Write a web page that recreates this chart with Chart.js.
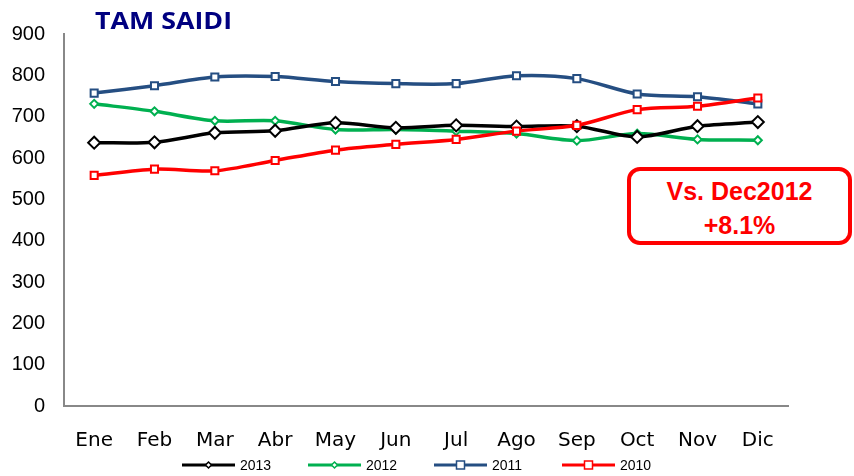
<!DOCTYPE html>
<html>
<head>
<meta charset="utf-8">
<script src="https://cdn.jsdelivr.net/npm/chart.js@4.4.1/dist/chart.umd.min.js"></script>
<style>
  html, body { margin: 0; padding: 0; background: #fff; }
  #wrap { position: relative; width: 854px; height: 476px; }
  #note {
    position: absolute; left: 627px; top: 167px; width: 217px; height: 67px;
    border: 4px solid #ff0000; border-radius: 13px; background: #fff;
    color: #ff0000; font: bold 25px "Liberation Sans", Arial, sans-serif;
    text-align: center; line-height: 34px; padding-top: 3px; box-sizing: content-box;
  }
</style>
</head>
<body>
<div id="wrap">
  <canvas id="chart" width="854" height="476"></canvas>
  <div id="note">Vs. Dec2012<br>+8.1%</div>
</div>
<script>
// Datos
const months = ['Ene', 'Feb', 'Mar', 'Abr', 'May', 'Jun', 'Jul', 'Ago', 'Sep', 'Oct', 'Nov', 'Dic'];
const saidi2013 = [637, 638, 661, 666, 685, 673, 679, 676, 677, 651, 677, 687];
const saidi2012 = [731, 713, 690, 690, 669, 669, 665, 659, 642, 659, 645, 643];
const saidi2011 = [757, 775, 796, 797, 785, 780, 780, 799, 792, 755, 748, 731];
const saidi2010 = [558, 573, 569, 594, 619, 633, 645, 665, 679, 717, 725, 745];
const yTicks = [0, 100, 200, 300, 400, 500, 600, 700, 800, 900];

function serie(label, data, color, shape, radius, order) {
  return {
    label, data, order,
    borderColor: color,
    borderWidth: 3.5,
    pointStyle: shape,
    pointRadius: radius,
    pointBorderWidth: 2,
    pointBorderColor: color,
    pointBackgroundColor: '#fff',
    tension: 0.3,
    fill: false
  };
}

// Leyenda propia: línea con marcador al centro, y el título
const legendaPlugin = {
  id: 'legenda',
  afterDraw(chart) {
    const ctx = chart.ctx;
    const xs = [182, 308, 434, 562];
    const y = 465;
    ctx.save();
    chart.data.datasets.forEach((ds, i) => {
      const x = xs[i];
      ctx.strokeStyle = ds.borderColor;
      ctx.lineWidth = 3;
      ctx.beginPath();
      ctx.moveTo(x, y);
      ctx.lineTo(x + 53, y);
      ctx.stroke();
      const cx = x + 26.5;
      const r = ds.pointStyle === 'rect' ? 4 : 3;
      ctx.fillStyle = '#fff';
      ctx.lineWidth = 1.5;
      ctx.beginPath();
      if (ds.pointStyle === 'rect') {
        ctx.rect(cx - r, y - r, r * 2, r * 2);
      } else {
        ctx.moveTo(cx, y - r); ctx.lineTo(cx + r, y); ctx.lineTo(cx, y + r); ctx.lineTo(cx - r, y); ctx.closePath();
      }
      ctx.fill();
      ctx.stroke();
      ctx.fillStyle = '#000';
      ctx.font = '14px "Liberation Sans", Arial, sans-serif';
      ctx.textBaseline = 'middle';
      ctx.fillText(ds.label, x + 58, y + 1);
    });
    // Título
    ctx.fillStyle = '#000080';
    ctx.font = 'bold 23px "Open Sans", Lato, sans-serif';
    ctx.textBaseline = 'alphabetic';
    const w = ctx.measureText('TAM SAIDI').width;
    ctx.translate(95, 29);
    ctx.scale(137 / w, 1);
    ctx.fillText('TAM SAIDI', 0, 0);
    ctx.restore();
  }
};

new Chart(document.getElementById('chart'), {
  type: 'line',
  data: {
    labels: months,
    datasets: [
      serie('2013', saidi2013, '#000000', 'rectRot', 6, 1),
      serie('2012', saidi2012, '#00b050', 'rectRot', 4, 2),
      serie('2011', saidi2011, '#254e82', 'rect', 5, 3),
      serie('2010', saidi2010, '#ff0000', 'rect', 5, 0)
    ]
  },
  options: {
    responsive: false,
    animation: false,
    layout: { padding: { top: 34, right: 66, left: 0, bottom: 0 } },
    plugins: {
      legend: { display: false },
      tooltip: { enabled: false }
    },
    scales: {
      x: {
        offset: true,
        grid: { display: false, drawTicks: false },
        border: { color: '#888', width: 2 },
        ticks: {
          color: '#000', padding: 23,
          font: { family: '"DejaVu Sans", Verdana, sans-serif', size: 20 }
        },
        afterFit(scale) { scale.height = 70; }
      },
      y: {
        min: 0, max: 900,
        afterBuildTicks(scale) { scale.ticks = yTicks.map(v => ({ value: v })); },
        grid: { display: false, drawTicks: false },
        border: { color: '#888', width: 2 },
        ticks: {
          color: '#000', padding: 19,
          font: { family: '"Liberation Sans", Arial, sans-serif', size: 20 }
        },
        afterFit(scale) { scale.width = 64; }
      }
    }
  },
  plugins: [legendaPlugin]
});
</script>
</body>
</html>
